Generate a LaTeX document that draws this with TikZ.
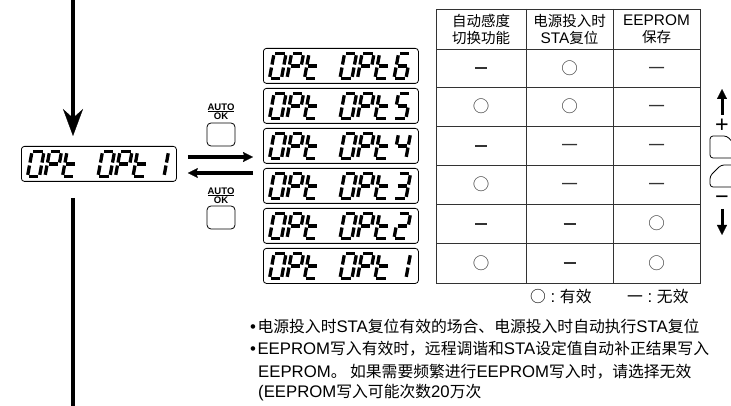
\documentclass[tikz,border=0pt]{standalone}
\usepackage{fontspec}
\setmainfont{Noto Sans CJK SC}
\newfontfamily\lat[Scale=1.06]{Liberation Sans}
\usetikzlibrary{arrows.meta}

\tikzset{
  segline/.style={line width=3.3pt, line cap=butt},
  lcdbox/.style={draw, rounded corners=3pt, line width=0.8pt, minimum width=155pt, minimum height=35pt, inner sep=0pt},
  bigline/.style={line width=3.5pt},
  midline/.style={line width=3.2pt, -{Stealth[length=10pt,width=10pt,inset=1.5pt,line width=0.3pt]}},
  smallarrow/.style={line width=3pt, -{Triangle[length=10pt,width=10pt,line width=0.3pt]}},
  btnbox/.style={draw, rounded corners=4pt, line width=0.8pt, minimum width=28pt, minimum height=23pt, inner sep=0pt},
  btnpath/.style={draw, line width=0.8pt, rounded corners=3pt},
  autolbl/.style={font=\lat\fontsize{9}{9}\selectfont\bfseries, inner sep=0pt},
  tbl/.style={draw=black!80, line width=0.9pt},
  hdr/.style={align=center, font=\fontsize{14.5}{17}\selectfont, inner sep=0pt},
  sym/.style={inner sep=0pt, font=\fontsize{16.5}{16.5}\selectfont, text=black!80},
  body/.style={anchor=west, font=\fontsize{15.8}{18}\selectfont, inner sep=0pt},
  pmsign/.style={inner sep=0pt, font=\lat\fontsize{22}{22}\selectfont},
}

\newcommand{\segA}{\draw[segline] (0.12,1)--(0.88,1);}
\newcommand{\segB}{\draw[segline] (1,0.94)--(1,0.56);}
\newcommand{\segC}{\draw[segline] (1,0.44)--(1,0.06);}
\newcommand{\segD}{\draw[segline] (0.12,0)--(0.88,0);}
\newcommand{\segE}{\draw[segline] (0,0.06)--(0,0.44);}
\newcommand{\segF}{\draw[segline] (0,0.56)--(0,0.94);}
\newcommand{\segG}{\draw[segline] (0.12,0.5)--(0.88,0.5);}
\newcommand{\dgZ}{\segA\segB\segC\segD\segE\segF}
\newcommand{\dgP}{\segA\segB\segE\segF\segG}
\newcommand{\dgT}{\segD\segE\segF\segG}
\newcommand{\dgOne}{\segB\segC}
\newcommand{\dgTwo}{\segA\segB\segD\segE\segG}
\newcommand{\dgThree}{\segA\segB\segC\segD\segG}
\newcommand{\dgFour}{\segB\segC\segF\segG}
\newcommand{\dgFive}{\segA\segC\segD\segF\segG}
\newcommand{\dgSix}{\segA\segC\segD\segE\segF\segG}
\newcommand{\dg}[3]{\begin{scope}[shift={(#1,#2)},x={(12pt,0pt)},y={(4.5pt,24.5pt)}]#3\end{scope}}
\newcommand{\lcd}[4]{%
  \node[lcdbox,anchor=north west] (#1) at (#2,#3) {};
  \dg{#2+6.5}{#3+30.3}{\dgZ}
  \dg{#2+24}{#3+30.3}{\dgP}
  \dg{#2+41.5}{#3+30.3}{\dgT}
  \dg{#2+77}{#3+30.3}{\dgZ}
  \dg{#2+94.5}{#3+30.3}{\dgP}
  \dg{#2+112}{#3+30.3}{\dgT}
  \dg{#2+131}{#3+30.3}{#4}}
\newcommand{\bdash}{\vphantom{○}\rule[5.2pt]{12pt}{1.8pt}}
\newcommand{\tdash}{\vphantom{○}一}
\newcommand{\ocirc}{○}

\begin{document}
\begin{tikzpicture}[x=1pt,y=-1pt]
\useasboundingbox (0,0) rectangle (731,406);

% displays
\lcd{lcd0}{21}{146}{\dgOne}
\lcd{lcd6}{263}{48}{\dgSix}
\lcd{lcd5}{263}{88}{\dgFive}
\lcd{lcd4}{263}{128}{\dgFour}
\lcd{lcd3}{263}{168}{\dgThree}
\lcd{lcd2}{263}{208}{\dgTwo}
\lcd{lcd1}{263}{248}{\dgOne}

% vertical arrow and line
\coordinate (topin) at (73,0);
\coordinate (botout) at (73,406);
\draw[bigline, -{Stealth[length=27pt,width=20pt,inset=9pt,line width=0.3pt]}, shorten >=10pt] (topin) -- (topin |- lcd0.north);
\draw[bigline, shorten <=16pt] (topin |- lcd0.south) -- (botout);

% horizontal arrows
\coordinate (ya) at (0,157);
\coordinate (yb) at (0,173);
\draw[midline, shorten <=11pt, shorten >=10pt] (lcd0.east |- ya) -- (lcd4.west |- ya);
\draw[midline, shorten <=10pt, shorten >=11pt] (lcd3.west |- yb) -- (lcd0.east |- yb);

% AUTO/OK buttons
\node[autolbl] (autoA) at (221,107) {AUTO};
\draw[line width=0.7pt] (208,111.5) -- (234,111.5);
\node[autolbl] (okA) at (221,116.5) {OK};
\node[btnbox] (btnA) at (221,134.5) {};
\node[autolbl] (autoB) at (221,191) {AUTO};
\draw[line width=0.7pt] (208,195.5) -- (234,195.5);
\node[autolbl] (okB) at (221,200.5) {OK};
\node[btnbox] (btnB) at (221,217.5) {};

% table
\draw[tbl] (436,9) rectangle (700,283);
\foreach \x in {526,613} \draw[tbl] (\x,9) -- (\x,283);
\foreach \y in {49,87,126,165,204,243} \draw[tbl] (436,\y) -- (700,\y);
\node[hdr] (h1) at (481,29) {自动感度\\切换功能};
\node[hdr] (h2) at (569.5,29) {电源投入时\\{\lat STA}复位};
\node[hdr] (h3) at (656.5,29) {{\lat EEPROM}\\保存};

\node[sym] (c11) at (481,68) {\bdash};
\node[sym] (c12) at (569.5,68) {\ocirc};
\node[sym] (c13) at (656.5,68) {\tdash};
\node[sym] (c21) at (481,106.5) {\ocirc};
\node[sym] (c22) at (569.5,106.5) {\ocirc};
\node[sym] (c23) at (656.5,106.5) {\tdash};
\node[sym] (c31) at (481,145.5) {\bdash};
\node[sym] (c32) at (569.5,145.5) {\tdash};
\node[sym] (c33) at (656.5,145.5) {\tdash};
\node[sym] (c41) at (481,184.5) {\ocirc};
\node[sym] (c42) at (569.5,184.5) {\tdash};
\node[sym] (c43) at (656.5,184.5) {\tdash};
\node[sym] (c51) at (481,223.5) {\bdash};
\node[sym] (c52) at (569.5,223.5) {\bdash};
\node[sym] (c53) at (656.5,223.5) {\ocirc};
\node[sym] (c61) at (481,263) {\ocirc};
\node[sym] (c62) at (569.5,263) {\bdash};
\node[sym] (c63) at (656.5,263) {\ocirc};

% right side + / - buttons
\coordinate (upA) at (722,115);
\coordinate (upB) at (722,89);
\draw[smallarrow] (upA) -- (upB);
\node[pmsign] (plus) at (722,126) {+};
\draw[btnpath] (731.5,158) -- (710,158) -- (710,136) -- (727,136) -- (731.5,141);
\draw[btnpath] (731.5,187) -- (710,187) -- (710,176) -- (721,165) -- (731.5,165);
\node[pmsign] (minus) at (722,200) {−};
\coordinate (dnA) at (722,209);
\coordinate (dnB) at (722,235);
\draw[smallarrow] (dnA) -- (dnB);

% legend and notes
\node[body] (leg1) at (530,297) {○{\lat\ :\ }有效};
\node[body] (leg2) at (627,297) {一{\lat\ :\ }无效};
\node[body] (t1) at (250,326) {{\lat •}\kern1.5pt电源投入时{\lat STA}复位有效的场合、电源投入时自动执行{\lat STA}复位};
\node[body] (t2) at (250,349) {{\lat •}\kern1.5pt{\lat EEPROM}写入有效时，远程调谐和{\lat STA}设定值自动补正结果写入};
\node[body] (t3) at (258,372) {{\lat EEPROM}。 如果需要频繁进行{\lat EEPROM}写入时，请选择无效};
\node[body] (t4) at (258,393) {{\lat (EEPROM}写入可能次数{\lat 20}万次};
\end{tikzpicture}
\end{document}
